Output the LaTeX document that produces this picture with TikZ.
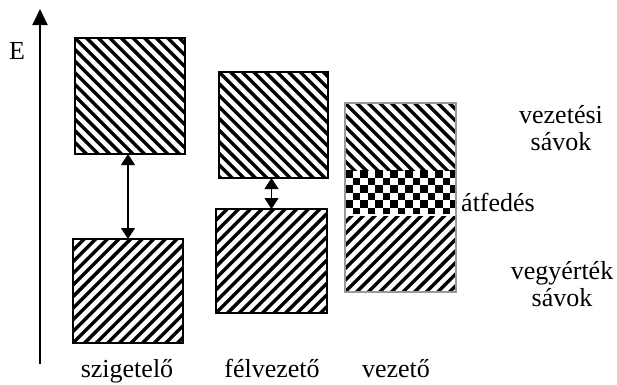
\documentclass[tikz,border=0pt]{standalone}
\usepackage{fontspec}
\setmainfont{Liberation Serif}
\usetikzlibrary{arrows.meta}

\tikzset{
  lbl/.style={font=\fontsize{26}{28}\selectfont, inner sep=0pt, anchor=base},
  band/.style={rectangle, inner sep=0pt, outer sep=0pt},
  frame/.style={band, draw=black, line width=2.2pt},
  % stripes running from upper left to lower right
  hatchdown/.style={path picture={
    \foreach \k in {-20,...,12}
      \draw[line width=3.4pt]
        ([xshift=\k*11.6pt]path picture bounding box.north west)
        ++(-10pt,10pt) -- ++(220pt,-220pt);
  }},
  % stripes running from lower left to upper right
  hatchup/.style={path picture={
    \foreach \k in {-20,...,12}
      \draw[line width=3.4pt]
        ([xshift=\k*11.6pt]path picture bounding box.south west)
        ++(-10pt,-10pt) -- ++(220pt,220pt);
  }},
  % checkerboard of 7.5pt squares
  checker/.style={path picture={
    \foreach \i in {0,...,15}
      \foreach \j in {0,...,6} {
        \ifodd\numexpr\i+\j\relax\else
          \fill ([xshift=\i*7.5pt,yshift=-\j*7.5pt]path picture bounding box.north west)
            rectangle ++(7.5pt,-7.5pt);
        \fi
      }
  }},
  gap/.style={draw=black, line width=1.1pt,
    {Triangle[width=14pt,length=11pt]}-{Triangle[width=14pt,length=11pt]}},
  axis/.style={draw=black, line width=2pt, -{Triangle[width=15pt,length=16pt]}}
}

\begin{document}
\begin{tikzpicture}[x=1pt, y=-1pt]
\useasboundingbox (0,0) rectangle (617,384);

% energy axis
\coordinate (axbot) at (40,364);
\coordinate (axtop) at (40,9);
\draw[axis] (axbot) -- (axtop);
\node[lbl] (elabel) at (17,59) {E};

% insulator
\node[frame, hatchdown, minimum width=110pt, minimum height=116pt] (insup) at (130,96) {};
\node[frame, hatchup, minimum width=110pt, minimum height=104pt] (inslo) at (128,291) {};
\draw[gap] (insup.south -| inslo.north) -- (inslo.north);

% semiconductor
\node[frame, hatchdown, minimum width=109pt, minimum height=106pt] (semup) at (273.5,125) {};
\node[frame, hatchup, minimum width=111pt, minimum height=104pt] (semlo) at (271.5,261) {};
\draw[gap] (semup.south -| semlo.north) -- (semlo.north);

% conductor: conduction band, overlap, valence band
\node[band, hatchdown, minimum width=111pt, minimum height=67pt] (condup) at (400.5,136.5) {};
\node[band, checker, minimum width=111pt, minimum height=45pt] (condov) at (400.5,192.5) {};
\node[band, hatchup, minimum width=111pt, minimum height=77pt] (condlo) at (400.5,253.5) {};
\draw[white, line width=1.2pt] (condov.south west) -- (condov.south east);
\node[band, draw=black!40, line width=1.6pt, minimum width=111pt, minimum height=189pt] (cond) at (400.5,197.5) {};

% material names
\node[lbl] (tins) at (127,377) {szigetelő};
\node[lbl] (tsem) at (272,377) {félvezető};
\node[lbl] (tcond) at (396,377) {vezető};

% band names
\node[lbl] (cb1) at (561,123) {vezetési};
\node[lbl] (cb2) at (561,150) {sávok};
\node[lbl, anchor=base west] (ovl) at (461,211) {átfedés};
\node[lbl] (vb1) at (562,279) {vegyérték};
\node[lbl] (vb2) at (562,306) {sávok};
\end{tikzpicture}
\end{document}
